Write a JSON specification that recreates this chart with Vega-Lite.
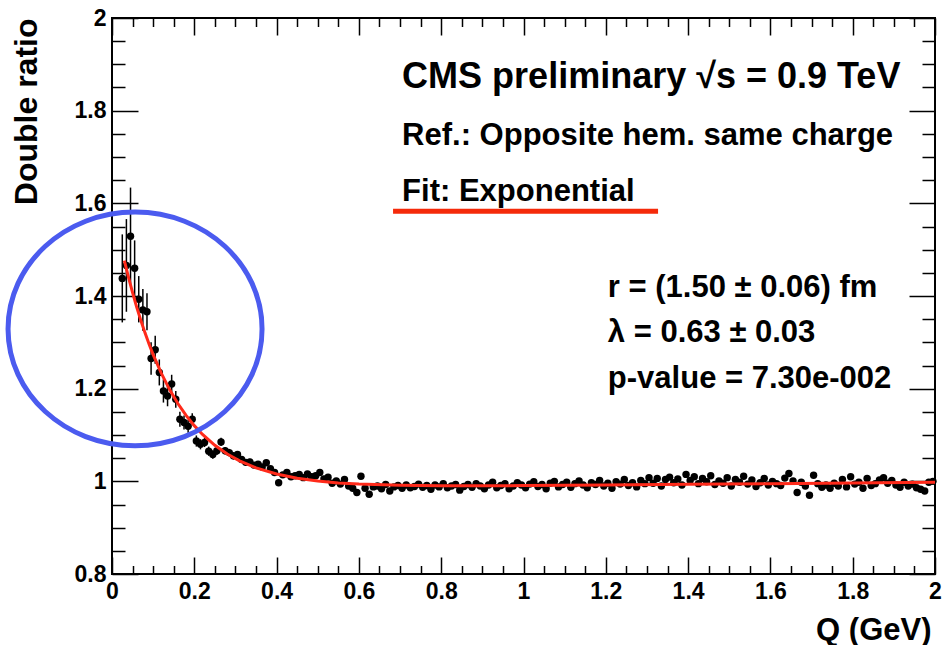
{
"$schema": "https://vega.github.io/schema/vega-lite/v6.json",
"width": 823, "height": 556,
"autosize": {"type": "none"},
"padding": {"left": 112, "top": 18, "right": 7, "bottom": 71},
"background": "white",
"config": {
  "view": {"stroke": "black", "strokeWidth": 2},
  "axis": {"grid": false, "domain": false, "labelFont": "Liberation Sans", "labelFontWeight": "bold", "labelFontSize": 23, "labelColor": "black", "tickColor": "black", "tickWidth": 1.5, "titleFont": "Liberation Sans", "titleFontWeight": "bold", "titleFontSize": 32, "titleColor": "black"}
},
"datasets": {
  "pts": [
{"q":0.025,"v":1.438,"e":0.095},{"q":0.035,"v":1.466,"e":0.1},{"q":0.045,"v":1.529,"e":0.105},{"q":0.055,"v":1.46,"e":0.06},{"q":0.065,"v":1.393,"e":0.05},{"q":0.075,"v":1.37,"e":0.045},{"q":0.085,"v":1.366,"e":0.04},{"q":0.095,"v":1.265,"e":0.035},{"q":0.105,"v":1.284,"e":0.03},{"q":0.115,"v":1.235,"e":0.028},
{"q":0.125,"v":1.195,"e":0.025},{"q":0.135,"v":1.184,"e":0.022},{"q":0.145,"v":1.21,"e":0.02},{"q":0.155,"v":1.177,"e":0.018},{"q":0.165,"v":1.134,"e":0.016},{"q":0.175,"v":1.127,"e":0.015},{"q":0.185,"v":1.119,"e":0.014},{"q":0.195,"v":1.134,"e":0.013},{"q":0.205,"v":1.087,"e":0.012},{"q":0.215,"v":1.08,"e":0.011},
{"q":0.225,"v":1.084,"e":0.01},{"q":0.235,"v":1.065,"e":0.01},{"q":0.245,"v":1.058,"e":0.009},{"q":0.255,"v":1.066,"e":0.009},{"q":0.265,"v":1.085,"e":0.009},{"q":0.275,"v":1.066,"e":0.008},{"q":0.285,"v":1.062,"e":0.008},{"q":0.295,"v":1.055,"e":0.008},{"q":0.305,"v":1.058,"e":0.007},{"q":0.315,"v":1.047,"e":0.007},
{"q":0.325,"v":1.041,"e":0.007},{"q":0.335,"v":1.042,"e":0.007},{"q":0.345,"v":1.035,"e":0.006},{"q":0.355,"v":1.037,"e":0.006},{"q":0.365,"v":1.031,"e":0.006},{"q":0.375,"v":1.04,"e":0.006},{"q":0.385,"v":1.027,"e":0.006},{"q":0.395,"v":1.019,"e":0.006},{"q":0.405,"v":0.997,"e":0.006},{"q":0.415,"v":1.014,"e":0.006},
{"q":0.425,"v":1.019,"e":0.006},{"q":0.435,"v":1.01,"e":0.006},{"q":0.445,"v":1.012,"e":0.006},{"q":0.455,"v":1.015,"e":0.006},{"q":0.465,"v":1.008,"e":0.006},{"q":0.475,"v":1.016,"e":0.006},{"q":0.485,"v":1.01,"e":0.006},{"q":0.495,"v":1.012,"e":0.006},{"q":0.505,"v":1.019,"e":0.006},{"q":0.515,"v":1.005,"e":0.006},
{"q":0.525,"v":1.009,"e":0.006},{"q":0.535,"v":0.996,"e":0.006},{"q":0.545,"v":1.001,"e":0.006},{"q":0.555,"v":0.994,"e":0.006},{"q":0.565,"v":1.004,"e":0.006},{"q":0.575,"v":0.99,"e":0.006},{"q":0.585,"v":0.985,"e":0.006},{"q":0.595,"v":0.976,"e":0.006},{"q":0.605,"v":1.011,"e":0.005},{"q":0.615,"v":0.985,"e":0.005},
{"q":0.625,"v":0.972,"e":0.005},{"q":0.635,"v":0.988,"e":0.005},{"q":0.645,"v":0.99,"e":0.005},{"q":0.655,"v":0.984,"e":0.005},{"q":0.665,"v":0.993,"e":0.005},{"q":0.675,"v":0.979,"e":0.005},{"q":0.685,"v":0.988,"e":0.005},{"q":0.695,"v":0.991,"e":0.005},{"q":0.705,"v":0.985,"e":0.005},{"q":0.715,"v":0.992,"e":0.005},
{"q":0.725,"v":0.986,"e":0.005},{"q":0.735,"v":0.989,"e":0.005},{"q":0.745,"v":0.994,"e":0.005},{"q":0.755,"v":0.987,"e":0.005},{"q":0.765,"v":0.991,"e":0.005},{"q":0.775,"v":0.983,"e":0.005},{"q":0.785,"v":0.992,"e":0.005},{"q":0.795,"v":0.988,"e":0.005},{"q":0.805,"v":0.995,"e":0.005},{"q":0.815,"v":0.986,"e":0.005},
{"q":0.825,"v":0.99,"e":0.005},{"q":0.835,"v":0.993,"e":0.005},{"q":0.845,"v":0.981,"e":0.005},{"q":0.855,"v":0.989,"e":0.005},{"q":0.865,"v":0.993,"e":0.005},{"q":0.875,"v":0.987,"e":0.005},{"q":0.885,"v":0.995,"e":0.005},{"q":0.895,"v":0.99,"e":0.005},{"q":0.905,"v":0.984,"e":0.005},{"q":0.915,"v":0.992,"e":0.005},
{"q":0.925,"v":0.998,"e":0.005},{"q":0.935,"v":0.986,"e":0.005},{"q":0.945,"v":0.991,"e":0.005},{"q":0.955,"v":0.995,"e":0.005},{"q":0.965,"v":0.984,"e":0.005},{"q":0.975,"v":0.99,"e":0.005},{"q":0.985,"v":0.997,"e":0.005},{"q":0.995,"v":0.992,"e":0.005},{"q":1.005,"v":0.986,"e":0.005},{"q":1.015,"v":0.994,"e":0.005},
{"q":1.025,"v":0.999,"e":0.005},{"q":1.035,"v":0.989,"e":0.005},{"q":1.045,"v":0.993,"e":0.005},{"q":1.055,"v":0.984,"e":0.005},{"q":1.065,"v":0.996,"e":0.005},{"q":1.075,"v":1.0,"e":0.005},{"q":1.085,"v":0.988,"e":0.005},{"q":1.095,"v":0.993,"e":0.005},{"q":1.105,"v":0.998,"e":0.005},{"q":1.115,"v":0.987,"e":0.005},
{"q":1.125,"v":0.995,"e":0.005},{"q":1.135,"v":1.001,"e":0.005},{"q":1.145,"v":0.992,"e":0.005},{"q":1.155,"v":0.986,"e":0.005},{"q":1.165,"v":0.997,"e":0.005},{"q":1.175,"v":0.993,"e":0.005},{"q":1.185,"v":1.002,"e":0.005},{"q":1.195,"v":0.99,"e":0.005},{"q":1.205,"v":0.996,"e":0.005},{"q":1.215,"v":0.985,"e":0.005},
{"q":1.225,"v":0.999,"e":0.005},{"q":1.235,"v":0.994,"e":0.005},{"q":1.245,"v":1.004,"e":0.005},{"q":1.255,"v":0.991,"e":0.005},{"q":1.265,"v":0.997,"e":0.005},{"q":1.275,"v":0.988,"e":0.005},{"q":1.285,"v":1.002,"e":0.005},{"q":1.295,"v":0.995,"e":0.005},{"q":1.305,"v":1.008,"e":0.005},{"q":1.315,"v":0.996,"e":0.005},
{"q":1.325,"v":1.006,"e":0.005},{"q":1.335,"v":0.99,"e":0.005},{"q":1.345,"v":1.004,"e":0.005},{"q":1.355,"v":1.009,"e":0.005},{"q":1.365,"v":0.997,"e":0.005},{"q":1.375,"v":1.005,"e":0.005},{"q":1.385,"v":0.992,"e":0.005},{"q":1.395,"v":1.015,"e":0.005},{"q":1.405,"v":1.002,"e":0.005},{"q":1.415,"v":1.01,"e":0.005},
{"q":1.425,"v":0.995,"e":0.005},{"q":1.435,"v":1.006,"e":0.005},{"q":1.445,"v":0.999,"e":0.005},{"q":1.455,"v":1.012,"e":0.005},{"q":1.465,"v":0.993,"e":0.005},{"q":1.475,"v":1.001,"e":0.005},{"q":1.485,"v":0.996,"e":0.005},{"q":1.495,"v":1.008,"e":0.005},{"q":1.505,"v":0.99,"e":0.005},{"q":1.515,"v":1.004,"e":0.005},
{"q":1.525,"v":0.998,"e":0.005},{"q":1.535,"v":1.011,"e":0.005},{"q":1.545,"v":0.994,"e":0.005},{"q":1.555,"v":1.003,"e":0.005},{"q":1.565,"v":0.989,"e":0.005},{"q":1.575,"v":0.997,"e":0.005},{"q":1.585,"v":1.006,"e":0.005},{"q":1.595,"v":0.992,"e":0.005},{"q":1.605,"v":1.0,"e":0.005},{"q":1.615,"v":0.995,"e":0.005},
{"q":1.625,"v":0.991,"e":0.005},{"q":1.635,"v":1.007,"e":0.005},{"q":1.645,"v":1.017,"e":0.005},{"q":1.655,"v":1.001,"e":0.005},{"q":1.665,"v":0.976,"e":0.005},{"q":1.675,"v":0.998,"e":0.005},{"q":1.685,"v":0.99,"e":0.005},{"q":1.695,"v":0.97,"e":0.005},{"q":1.705,"v":1.013,"e":0.005},{"q":1.715,"v":0.995,"e":0.005},
{"q":1.725,"v":0.987,"e":0.005},{"q":1.735,"v":0.992,"e":0.005},{"q":1.745,"v":0.985,"e":0.005},{"q":1.755,"v":0.996,"e":0.005},{"q":1.765,"v":0.99,"e":0.005},{"q":1.775,"v":1.004,"e":0.005},{"q":1.785,"v":0.988,"e":0.005},{"q":1.795,"v":1.01,"e":0.005},{"q":1.805,"v":0.994,"e":0.005},{"q":1.815,"v":0.998,"e":0.005},
{"q":1.825,"v":0.985,"e":0.005},{"q":1.835,"v":1.006,"e":0.005},{"q":1.845,"v":0.991,"e":0.005},{"q":1.855,"v":0.995,"e":0.005},{"q":1.865,"v":1.003,"e":0.005},{"q":1.875,"v":1.008,"e":0.005},{"q":1.885,"v":0.996,"e":0.005},{"q":1.895,"v":1.002,"e":0.005},{"q":1.905,"v":0.992,"e":0.005},{"q":1.915,"v":0.987,"e":0.005},
{"q":1.925,"v":0.998,"e":0.005},{"q":1.935,"v":0.99,"e":0.005},{"q":1.945,"v":0.994,"e":0.005},{"q":1.955,"v":0.986,"e":0.005},{"q":1.965,"v":0.983,"e":0.005},{"q":1.975,"v":0.979,"e":0.005},{"q":1.985,"v":0.998,"e":0.005},{"q":1.995,"v":1.0,"e":0.005}
  ],
  "fit": [
{"q":0.03,"f":1.4764},{"q":0.04,"f":1.4405},{"q":0.05,"f":1.4071},{"q":0.06,"f":1.3761},{"q":0.07,"f":1.3475},{"q":0.08,"f":1.321},{"q":0.09,"f":1.2964},{"q":0.1,"f":1.2736},{"q":0.12,"f":1.2329},{"q":0.14,"f":1.198},{"q":0.16,"f":1.168},{"q":0.18,"f":1.1422},{"q":0.2,"f":1.1202},{"q":0.22,"f":1.1012},{"q":0.25,"f":1.0777},{"q":0.28,"f":1.059},{"q":0.31,"f":1.0442},{"q":0.35,"f":1.0291},{"q":0.4,"f":1.0157},{"q":0.45,"f":1.0067},{"q":0.5,"f":1.0007},{"q":0.55,"f":0.9966},{"q":0.6,"f":0.994},{"q":0.7,"f":0.9913},{"q":0.8,"f":0.9904},{"q":0.9,"f":0.9904},{"q":1.0,"f":0.9908},{"q":1.2,"f":0.992},{"q":1.4,"f":0.9935},{"q":1.6,"f":0.995},{"q":1.8,"f":0.9965},{"q":2.0,"f":0.998}
  ],
  "one": [{"id": 1}]
},
"resolve": {"axis": {"x": "independent", "y": "independent"}},
"layer": [
  {
    "data": {"name": "pts"},
    "mark": {"type": "errorbar", "color": "black", "thickness": 1.5},
    "encoding": {
      "x": {"field": "q", "type": "quantitative", "scale": {"domain": [0, 2], "nice": false, "zero": false}, "axis": null},
      "y": {"field": "v", "type": "quantitative", "scale": {"domain": [0.8, 2], "nice": false, "zero": false}, "axis": null},
      "yError": {"field": "e"}
    }
  },
  {
    "data": {"name": "pts"},
    "mark": {"type": "point", "filled": true, "color": "black", "opacity": 1, "size": 55},
    "encoding": {
      "x": {"field": "q", "type": "quantitative", "axis": {"orient": "bottom", "values": [0, 0.2, 0.4, 0.6, 0.8, 1, 1.2, 1.4, 1.6, 1.8, 2], "format": "~g", "ticks": false, "labelPadding": 6, "labelFlush": false, "title": "Q (GeV)", "titleFontSize": 31, "titleAnchor": "end", "titleAlign": "right", "titleX": 819, "titlePadding": 12}},
      "y": {"field": "v", "type": "quantitative", "axis": {"orient": "left", "values": [0.8, 1, 1.2, 1.4, 1.6, 1.8, 2], "format": "~g", "ticks": false, "labelPadding": 6, "labelFlush": false, "title": "Double ratio", "titleAnchor": "end", "titleAlign": "right", "titlePadding": 31}}
    }
  },
  {
    "data": {"name": "fit"},
    "mark": {"type": "line", "color": "#ff2a1a", "strokeWidth": 3},
    "encoding": {
      "x": {"field": "q", "type": "quantitative", "axis": {"orient": "bottom", "values": [0, 0.2, 0.4, 0.6, 0.8, 1, 1.2, 1.4, 1.6, 1.8, 2], "labels": false, "tickSize": -17, "title": null}},
      "y": {"field": "f", "type": "quantitative", "axis": {"orient": "left", "values": [0.8, 1, 1.2, 1.4, 1.6, 1.8, 2], "labels": false, "tickSize": -26, "title": null}}
    }
  },
  {
    "data": {"name": "fit"},
    "mark": {"type": "point", "opacity": 0},
    "encoding": {
      "x": {"field": "q", "type": "quantitative", "axis": {"orient": "bottom", "values": [0.05,0.1,0.15,0.25,0.3,0.35,0.45,0.5,0.55,0.65,0.7,0.75,0.85,0.9,0.95,1.05,1.1,1.15,1.25,1.3,1.35,1.45,1.5,1.55,1.65,1.7,1.75,1.85,1.9,1.95], "labels": false, "tickSize": -8.5, "title": null}},
      "y": {"field": "f", "type": "quantitative", "axis": {"orient": "left", "values": [0.85,0.9,0.95,1.05,1.1,1.15,1.25,1.3,1.35,1.45,1.5,1.55,1.65,1.7,1.75,1.85,1.9,1.95], "labels": false, "tickSize": -13, "title": null}}
    }
  },
  {
    "data": {"name": "fit"},
    "mark": {"type": "point", "opacity": 0},
    "encoding": {
      "x": {"field": "q", "type": "quantitative", "axis": {"orient": "top", "values": [0, 0.2, 0.4, 0.6, 0.8, 1, 1.2, 1.4, 1.6, 1.8, 2], "labels": false, "tickSize": -17, "title": null}},
      "y": {"field": "f", "type": "quantitative", "axis": {"orient": "right", "values": [0.8, 1, 1.2, 1.4, 1.6, 1.8, 2], "labels": false, "tickSize": -26, "title": null}}
    }
  },
  {
    "data": {"name": "fit"},
    "mark": {"type": "point", "opacity": 0},
    "encoding": {
      "x": {"field": "q", "type": "quantitative", "axis": {"orient": "top", "values": [0.05,0.1,0.15,0.25,0.3,0.35,0.45,0.5,0.55,0.65,0.7,0.75,0.85,0.9,0.95,1.05,1.1,1.15,1.25,1.3,1.35,1.45,1.5,1.55,1.65,1.7,1.75,1.85,1.9,1.95], "labels": false, "tickSize": -8.5, "title": null}},
      "y": {"field": "f", "type": "quantitative", "axis": {"orient": "right", "values": [0.85,0.9,0.95,1.05,1.1,1.15,1.25,1.3,1.35,1.45,1.5,1.55,1.65,1.7,1.75,1.85,1.9,1.95], "labels": false, "tickSize": -13, "title": null}}
    }
  },
  {
    "data": {"name": "one"},
    "mark": {"type": "point", "shape": "M -1 0 A 1 0.92 0 1 1 1 0 A 1 0.92 0 1 1 -1 0 Z", "size": 64516, "filled": false, "fill": null, "stroke": "#4b5bef", "strokeWidth": 5, "opacity": 1, "strokeOpacity": 1},
    "encoding": {
      "x": {"datum": 0.056, "type": "quantitative", "axis": null},
      "y": {"datum": 1.329, "type": "quantitative", "axis": null}
    }
  },
  {
    "data": {"name": "one"},
    "mark": {"type": "rule", "color": "#f52a0a", "strokeWidth": 5},
    "encoding": {
      "x": {"datum": 0.683, "type": "quantitative", "axis": null},
      "x2": {"datum": 1.327},
      "y": {"datum": 1.583, "type": "quantitative", "axis": null}
    }
  },
  {
    "data": {"values": [
      {"tx": 0.705, "ty": 1.849, "label": "CMS preliminary √s = 0.9 TeV", "grp": "big"},
      {"tx": 0.705, "ty": 1.726, "label": "Ref.: Opposite hem. same charge", "grp": "mid"},
      {"tx": 0.705, "ty": 1.605, "label": "Fit: Exponential", "grp": "mid"},
      {"tx": 1.205, "ty": 1.398, "label": "r = (1.50 ± 0.06) fm", "grp": "mid"},
      {"tx": 1.205, "ty": 1.301, "label": "λ = 0.63 ± 0.03", "grp": "mid"},
      {"tx": 1.205, "ty": 1.201, "label": "p-value = 7.30e-002", "grp": "mid"}
    ]},
    "mark": {"type": "text", "align": "left", "baseline": "alphabetic", "font": "Liberation Sans", "fontWeight": "bold", "color": "black"},
    "encoding": {
      "x": {"field": "tx", "type": "quantitative", "axis": null},
      "y": {"field": "ty", "type": "quantitative", "axis": null},
      "text": {"field": "label"},
      "size": {"field": "grp", "type": "nominal", "scale": {"domain": ["big", "mid"], "range": [36, 31]}, "legend": null}
    }
  }
]
}
